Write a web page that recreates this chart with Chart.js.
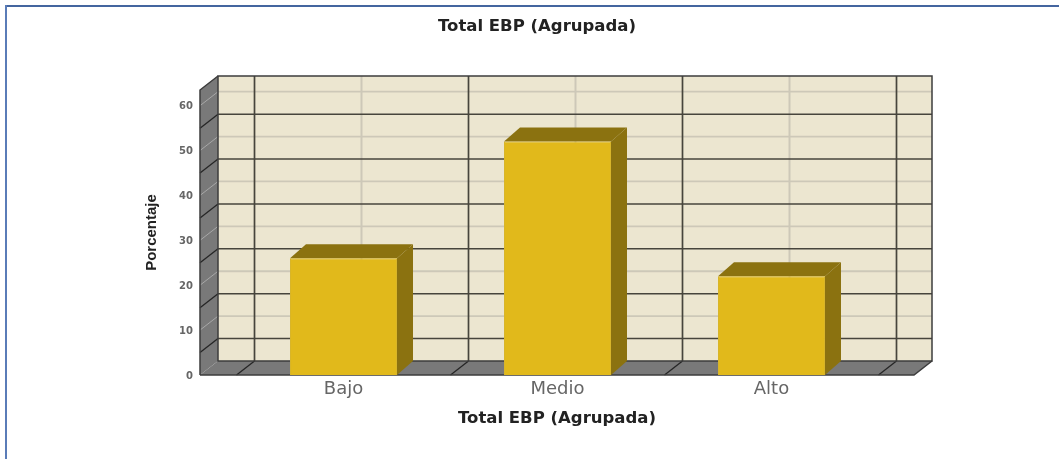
<!DOCTYPE html>
<html>
<head>
<meta charset="utf-8">
<style>
html,body{margin:0;padding:0;background:#fff;width:1059px;height:459px;overflow:hidden}
#frameTop{position:absolute;left:5px;top:5px;right:0;height:2px;background:#44659f}
#frameLeft{position:absolute;left:5px;top:5px;bottom:0;width:2px;background:#5a7cb8}
#wrap{position:absolute;left:8px;top:0;width:1051px;height:459px;filter:blur(0.55px)}
</style>
<script src="https://cdn.jsdelivr.net/npm/chart.js@4/dist/chart.umd.min.js"></script>
</head>
<body>
<div id="frameTop"></div><div id="frameLeft"></div>
<div id="wrap"><canvas id="c" width="1051" height="459"></canvas></div>
<script>
const titleText = "Total EBP (Agrupada)";
const yTitle = "Porcentaje";
const categories = ["Bajo", "Medio", "Alto"];
const percentages = [26, 52, 22];
const yTicks = [0, 10, 20, 30, 40, 50, 60];
const darkY = [5, 15, 25, 35, 45, 55];
const yMax = 63.5;

const WALL_DX = 18, WALL_DY = 14, BAR_DX = 16, BAR_DY = 14;

function line(ctx, x1, y1, x2, y2, color, w) {
  ctx.strokeStyle = color; ctx.lineWidth = w;
  ctx.beginPath(); ctx.moveTo(x1, y1); ctx.lineTo(x2, y2); ctx.stroke();
}
function poly(ctx, pts, fill) {
  ctx.fillStyle = fill; ctx.beginPath();
  pts.forEach((p, i) => i ? ctx.lineTo(p[0], p[1]) : ctx.moveTo(p[0], p[1]));
  ctx.closePath(); ctx.fill();
}

const box3d = {
  id: "box3d",
  beforeDatasetsDraw(chart) {
    const ctx = chart.ctx, a = chart.chartArea;
    const xS = chart.scales.x, yS = chart.scales.y;
    const L = a.left, R = a.right, T = a.top, B = a.bottom;
    const dx = WALL_DX, dy = WALL_DY;
    const dark = "#47453c", light = "#cdc8b8", sideDark = "#262626", sideLight = "#a8a8a8";
    ctx.save();
    poly(ctx, [[L+dx,T-dy],[R+dx,T-dy],[R+dx,B-dy],[L+dx,B-dy]], "#ece6d0");
    poly(ctx, [[L,T],[L+dx,T-dy],[L+dx,B-dy],[L,B]], "#797979");
    poly(ctx, [[L,B],[L+dx,B-dy],[R+dx,B-dy],[R,B]], "#797979");
    yTicks.slice(1).forEach(v => {
      const y = yS.getPixelForValue(v);
      line(ctx, L, y, L+dx, y-dy, sideLight, 1);
      line(ctx, L+dx, y-dy, R+dx, y-dy, light, 1.8);
    });
    categories.forEach((_, i) => {
      const x = xS.getPixelForValue(i);
      line(ctx, x+dx, T-dy, x+dx, B-dy, light, 2);
    });
    darkY.forEach(v => {
      const y = yS.getPixelForValue(v);
      line(ctx, L, y, L+dx, y-dy, sideDark, 1.3);
      line(ctx, L+dx, y-dy, R+dx, y-dy, dark, 1.5);
    });
    for (let i = 0; i <= categories.length; i++) {
      const x = xS.getPixelForValue(i - 0.5);
      line(ctx, x+dx, T-dy, x+dx, B-dy, dark, 1.7);
      line(ctx, x+dx, B-dy, x, B, "#262626", 1.3);
    }
    ctx.strokeStyle = "#3c3c3c"; ctx.lineWidth = 1.5;
    ctx.strokeRect(L+dx, T-dy, R-L, B-T);
    ctx.beginPath();
    ctx.moveTo(L, B); ctx.lineTo(L, T); ctx.lineTo(L+dx, T-dy);
    ctx.moveTo(L, B); ctx.lineTo(R, B); ctx.lineTo(R+dx, B-dy);
    ctx.stroke();
    chart.getDatasetMeta(0).data.forEach(b => {
      const l = b.x - b.width/2, r = b.x + b.width/2, t = b.y, bs = b.base;
      poly(ctx, [[l,t],[l+BAR_DX,t-BAR_DY],[r+BAR_DX,t-BAR_DY],[r,t]], "#8b7210");
      poly(ctx, [[r,t],[r+BAR_DX,t-BAR_DY],[r+BAR_DX,bs-BAR_DY],[r,bs]], "#8b7210");
    });
    ctx.restore();
  }
};

new Chart(document.getElementById("c"), {
  type: "bar",
  data: {
    datasets: [{
      data: categories.map((c, i) => ({ x: i, y: percentages[i] })),
      backgroundColor: "#e1b91b",
      borderColor: "#d8b52a",
      borderWidth: 1,
      barPercentage: 0.5,
      categoryPercentage: 1
    }]
  },
  plugins: [box3d],
  options: {
    responsive: false,
    animation: false,
    layout: { padding: { left: 152, right: 145, top: 0, bottom: 20 } },
    plugins: {
      legend: { display: false },
      tooltip: { enabled: false },
      title: {
        display: true, text: titleText, color: "#222",
        font: { family: "'DejaVu Sans'", size: 16.5, weight: "bold" },
        padding: { top: 17.1, bottom: 53.1 }
      }
    },
    scales: {
      x: {
        type: "linear", offset: false, min: -0.6706, max: 2.6659,
        grid: { display: false, drawTicks: false }, border: { display: false },
        afterBuildTicks(s) { s.ticks = categories.map((_, i) => ({ value: i })); },
        afterFit(s) { s.height = 64; },
        ticks: {
          autoSkip: false, maxRotation: 0, padding: 4, color: "#666",
          font: { family: "'DejaVu Sans'", size: 18 },
          callback: v => categories[v]
        },
        title: {
          display: true, text: titleText, color: "#222",
          font: { family: "'DejaVu Sans'", size: 16.5, weight: "bold" },
          padding: { top: 8, bottom: 10.8 }
        }
      },
      y: {
        min: 0, max: yMax,
        grid: { display: false, drawTicks: false }, border: { display: false },
        afterFit(s) { s.width = 40; },
        afterBuildTicks(s) { s.ticks = yTicks.map(v => ({ value: v })); },
        ticks: {
          padding: 7, color: "#666", includeBounds: false, labelOffset: 1,
          font: { family: "'DejaVu Sans'", size: 10, weight: "bold" }
        },
        title: {
          display: true, text: yTitle, color: "#222",
          font: { family: "'Liberation Sans'", size: 15, weight: "bold" },
          padding: { top: -17, bottom: 0 }
        }
      }
    }
  }
});
</script>
</body>
</html>
